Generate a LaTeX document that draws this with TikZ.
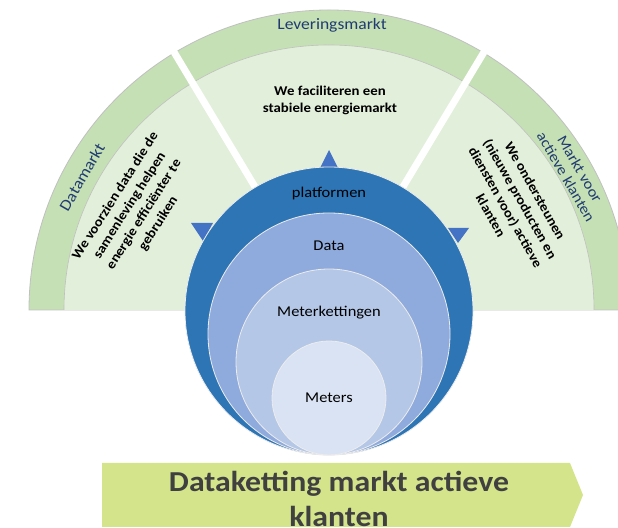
\documentclass[tikz,border=0pt]{standalone}
\usepackage{fontspec}
\setmainfont{Carlito}[FakeStretch=1.1]
\usepackage{tikz}
\usetikzlibrary{positioning}
\usepackage{xcolor}
\definecolor{bandgreen}{HTML}{C5E0B4}
\definecolor{fieldgreen}{HTML}{E2EFDA}
\definecolor{edgegray}{HTML}{C0C0C0}
\definecolor{labelblue}{HTML}{203A72}
\definecolor{ringblue}{HTML}{2E75B6}
\definecolor{datablue}{HTML}{8FAADC}
\definecolor{chainblue}{HTML}{B4C7E7}
\definecolor{meterblue}{HTML}{DAE3F3}
\definecolor{tipblue}{HTML}{4472C4}
\definecolor{arrowlime}{HTML}{D4E48B}
\definecolor{titlegray}{HTML}{404040}
\tikzset{
	bandlabel/.style={labelblue, font=\fontsize{16}{18}\selectfont, align=center},
	sectortext/.style={font=\fontsize{13.5}{17}\selectfont\bfseries, align=center},
	ringtext/.style={font=\fontsize{15}{18}\selectfont},
	ring/.style={draw=white!85!gray, line width=0.8pt},
}

\begin{document}
\begin{tikzpicture}[x=1bp, y=1bp]
				\useasboundingbox (0,0) rectangle (618,528);
				\clip (0,0) rectangle (618,528);
				% outer band and inner field of the half disc
				\fill[bandgreen] (29,218) arc (180:0:300) -- cycle;
				\draw[edgegray, line width=0.8pt] (29,218) arc (180:0:300) -- cycle;
				\fill[fieldgreen] (64,218) arc (180:0:265) -- cycle;
				\draw[edgegray, line width=0.6pt] (64,218) arc (180:0:265);
				% white gaps between the three markets
				\draw[white, line width=7bp] (329,218) ++(121:140) -- ++(121:170);
				\draw[white, line width=7bp] (329,218) ++(59:140) -- ++(59:170);
				% band labels
				\node[bandlabel] (lever) at (332,503) {Leveringsmarkt};
				\node[bandlabel, rotate=60] (datam) at (82,351) {Datamarkt};
				\node[bandlabel, rotate=-60, font=\fontsize{15}{16}\selectfont] (actmk) at (573,355)
				{Markt voor\\actieve klanten};
				% texts in the sectors
				\node[sectortext, rotate=57.5] (dtext) at (137,318)
				{We voorzien data die de\\samenleving helpen\\energie efficiënter te\\gebruiken};
				\node[sectortext] (ltext) at (330,428)
				{We faciliteren een\\stabiele energiemarkt};
				\node[sectortext, rotate=-60.5] (atext) at (513,325)
				{We ondersteunen\\(nieuwe producten en\\diensten voor) actieve\\klanten};
				% small pointers behind the rings
				\fill[tipblue] (329,378) -- (320,360) -- (338,360) -- cycle;
				\fill[tipblue] (191,305) -- (213,305) -- (203,287) -- cycle;
				\fill[tipblue] (448,300) -- (469,300) -- (458,285) -- cycle;
				% nested rings, all touching at the bottom
				\draw[ring, fill=ringblue] (329,217) circle (144);
				\draw[ring, fill=datablue] (329,194) circle (121);
				\draw[ring, fill=chainblue] (329,166) circle (93);
				\draw[ring, fill=meterblue] (329,130) circle (57);
				\node[ringtext] (platf) at (329,334) {platformen};
				\node[ringtext] (data) at (329,282) {Data};
				\node[ringtext] (chain) at (329,215) {Meterkettingen};
				\node[ringtext] (meter) at (329,130) {Meters};
				% bottom arrow
				\fill[arrowlime] (102,65) -- (570,65) -- (583,33) -- (570,1) -- (102,1) -- cycle;
				\node[titlegray, font=\fontsize{29}{36}\selectfont\bfseries, align=center] (title)
				at (339,29) {Dataketting markt actieve\\klanten};
\end{tikzpicture}
\end{document}
